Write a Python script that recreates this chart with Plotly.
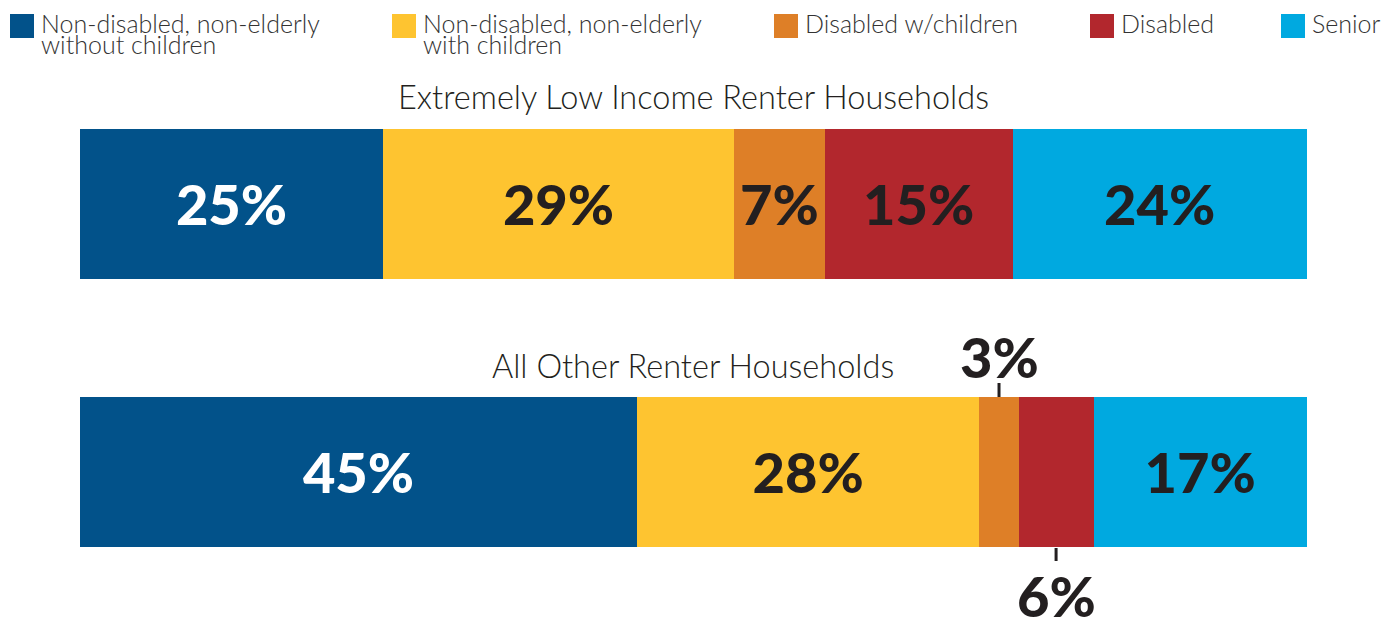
import plotly.graph_objects as go

# ---------------- data ----------------
groups = ["Extremely Low Income Renter Households", "All Other Renter Households"]
categories = [
    "Non-disabled, non-elderly without children",
    "Non-disabled, non-elderly with children",
    "Disabled w/children",
    "Disabled",
    "Senior",
]
legend_lines = [
    ["Non-disabled, non-elderly", "without children"],
    ["Non-disabled, non-elderly", "with children"],
    ["Disabled w/children"],
    ["Disabled"],
    ["Senior"],
]
eli_values = [24.7, 28.6, 7.4, 15.3, 24.0]
other_values = [45.4, 27.9, 3.2, 6.1, 17.4]
# labels placed outside the bar: (group index, category index) -> side
outside_labels = {(1, 2): "above", (1, 3): "below"}

# ---------------- style ----------------
colors = ["#02528A", "#FEC430", "#DE7F27", "#B2272D", "#00A9E0"]
dark = "#231F20"
label_colors = ["#FFFFFF", dark, dark, dark, dark]
W, H = 1392, 617
FONT = "Lato"
LABEL_SIZE = 56
BAR_WIDTH = 0.56

series = [eli_values, other_values]

fig = go.Figure()
for ci, cat in enumerate(categories):
    vals = [series[g][ci] for g in range(len(groups))]
    texts = []
    for g in range(len(groups)):
        if (g, ci) in outside_labels:
            texts.append("")
        else:
            texts.append(f"{round(vals[g])}%")
    fig.add_trace(go.Bar(
        y=groups, x=vals, orientation="h", name=cat,
        marker=dict(color=colors[ci], line=dict(width=0)),
        width=BAR_WIDTH,
        text=texts, textposition="inside", insidetextanchor="middle",
        textangle=0, constraintext="none",
        textfont=dict(family=FONT, size=LABEL_SIZE, weight=900, color=label_colors[ci]),
        showlegend=False, hoverinfo="x+name",
    ))

annotations = []
shapes = []

# group titles
for g, title in enumerate(groups):
    annotations.append(dict(
        text=title, xref="x domain", x=0.5, yref="y", y=g, yshift=107,
        showarrow=False, xanchor="center", yanchor="middle",
        font=dict(family=FONT, size=32.5, color=dark, weight=300),
    ))

# outside labels with leader lines
for (g, ci), side in outside_labels.items():
    v = series[g]
    xc = sum(v[:ci]) + v[ci] / 2
    label = f"{round(v[ci])}%"
    if side == "above":
        ys, l0, l1 = 116, 75, 89
    else:
        ys, l0, l1 = -123, -76, -89
    annotations.append(dict(
        text=label, x=xc, xref="x", y=g, yref="y", yshift=ys,
        showarrow=False, xanchor="center", yanchor="middle",
        font=dict(family=FONT, size=LABEL_SIZE, weight=900, color=dark),
    ))
    shapes.append(dict(
        type="line", xref="x", yref="y", ysizemode="pixel", yanchor=g,
        x0=xc, x1=xc, y0=l0, y1=l1, line=dict(color=dark, width=3),
    ))

# custom legend
legend_x = [10, 392, 774, 1090, 1281]
for ci in range(len(categories)):
    x0 = legend_x[ci]
    shapes.append(dict(
        type="rect", xref="paper", yref="paper",
        x0=x0 / W, x1=(x0 + 24) / W, y0=1 - 38 / H, y1=1 - 14 / H,
        fillcolor=colors[ci], line=dict(width=0),
    ))
    for li, line in enumerate(legend_lines[ci]):
        cy = 23.5 + 20 * li
        annotations.append(dict(
            text=line, xref="paper", yref="paper",
            x=(x0 + 29) / W, y=1 - cy / H, showarrow=False,
            xanchor="left", yanchor="middle",
            font=dict(family=FONT, size=25, color="#333333", weight=300),
        ))

fig.update_layout(
    width=W, height=H, autosize=False,
    margin=dict(l=0, r=0, t=0, b=0),
    barmode="stack",
    paper_bgcolor="white", plot_bgcolor="white",
    xaxis=dict(range=[0, 100], domain=[80 / W, 1307 / W], visible=False, fixedrange=True),
    yaxis=dict(type="category", categoryorder="array", categoryarray=groups,
               range=[1.541, -0.761], domain=[0, 1], visible=False, fixedrange=True),
    annotations=annotations, shapes=shapes,
    showlegend=False,
)

fig.write_html(
    "out.html",
    config={"displayModeBar": False},
    post_script="document.body.style.margin='0';document.body.style.overflow='hidden';",
)
